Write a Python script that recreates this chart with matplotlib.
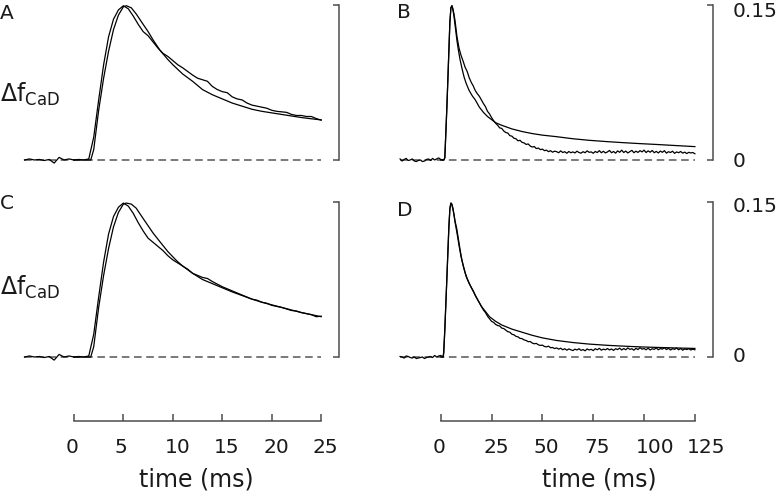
import numpy as np
import matplotlib
matplotlib.use('Agg')
import matplotlib.pyplot as plt
import matplotlib.transforms as mtransforms

plt.rcParams['font.family'] = ['DejaVu Sans']
plt.rcParams['mathtext.default'] = 'regular'

# ---- panel A (0-25 ms, first fit) ----
a_data_t = np.linspace(-5, 25, 61)
a_data_v = [0.000, 0.001, 0.000, 0.0005, -0.0005, 0.0005, -0.003, 0.0025, 0.000, 0.001,
            0.000, 0.0005, 0.000, 0.001, 0.022, 0.058, 0.092, 0.119, 0.136, 0.145,
            0.149, 0.146, 0.139, 0.131, 0.124, 0.120, 0.114, 0.108, 0.103, 0.100,
            0.096, 0.092, 0.089, 0.0855, 0.082, 0.079, 0.0775, 0.076, 0.071, 0.068,
            0.066, 0.065, 0.061, 0.059, 0.058, 0.055, 0.053, 0.052, 0.051, 0.050,
            0.048, 0.047, 0.0465, 0.046, 0.044, 0.043, 0.043, 0.042, 0.042, 0.040,
            0.0385]
a_fit_t = [0, 1.7, 2.0, 2.5, 3.0, 3.5, 4.0, 4.5, 5.0, 5.3,
           5.8, 6.3, 7.0, 7.5, 8.0, 8.7, 9.5, 10, 11, 12,
           13, 14, 15, 16, 17, 18, 19, 20, 21, 22, 23, 24, 25]
a_fit_v = [0, 0, 0.01, 0.048, 0.079, 0.105, 0.126, 0.140, 0.148, 0.149,
           0.147, 0.141, 0.131, 0.124, 0.116, 0.106, 0.097, 0.092, 0.083, 0.076,
           0.068, 0.063, 0.059, 0.055, 0.052, 0.049, 0.047, 0.0455, 0.044, 0.0425, 0.041, 0.0398, 0.0387]

# ---- panel C (0-25 ms, second fit) ----
c_data_t = np.linspace(-5, 25, 61)
c_data_v = [0.000, 0.001, 0.000, 0.0005, -0.0005, 0.0005, -0.003, 0.0025, 0.000, 0.001,
            0.000, 0.0005, 0.000, 0.001, 0.022, 0.058, 0.092, 0.119, 0.136, 0.145,
            0.149, 0.146, 0.139, 0.130, 0.122, 0.115, 0.111, 0.107, 0.103, 0.098,
            0.094, 0.091, 0.088, 0.085, 0.081, 0.079, 0.077, 0.076, 0.073, 0.0705,
            0.068, 0.066, 0.064, 0.062, 0.060, 0.058, 0.056, 0.055, 0.053, 0.052,
            0.050, 0.049, 0.048, 0.0465, 0.045, 0.0445, 0.043, 0.042, 0.041, 0.039,
            0.0395]
c_fit_t = [0, 1.7, 2.0, 2.5, 3.0, 3.5, 4.0, 4.5, 5.0, 5.3,
           5.8, 6.3, 7.0, 7.5, 8.0, 8.7, 9.5, 10.4, 11, 12,
           13, 14, 15, 16, 17, 18, 19, 20, 21, 22, 23, 24, 25]
c_fit_v = [0, 0, 0.01, 0.048, 0.079, 0.105, 0.126, 0.140, 0.148, 0.149,
           0.148, 0.144, 0.134, 0.127, 0.120, 0.1115, 0.102, 0.093, 0.088, 0.081,
           0.075, 0.071, 0.067, 0.063, 0.0595, 0.056, 0.053, 0.0505, 0.048, 0.0455, 0.043, 0.041, 0.039]

# ---- panel B (0-125 ms, first fit) ----
b_base_t = np.arange(-20, 2)
b_base_v = [0.001, -0.001, 0.0005, 0.0015, -0.0005, 0.000, 0.001, -0.001, -0.0015, -0.0005,
            0.000, -0.0015, -0.001, 0.0005, 0.001, -0.0005, 0.0015, 0.000, 0.001, 0.002,
            0.0005, 0.000]
b_peak_t = [1.5, 2, 2.5, 3, 3.5, 4, 4.5, 5, 5.5, 6, 6.5, 7, 7.5, 8,
            9, 10, 11, 12, 13, 14, 15, 16, 17, 18, 19, 20, 21, 22, 23, 24, 25, 26, 27]
b_peak_v = [0.000, 0.002, 0.025, 0.05, 0.077, 0.105, 0.133, 0.147, 0.149, 0.146, 0.141, 0.135, 0.127, 0.119,
            0.108, 0.101, 0.0955, 0.0895, 0.0855, 0.0795, 0.075, 0.0715, 0.067, 0.064, 0.0615,
            0.058, 0.0545, 0.0515, 0.047, 0.0445, 0.041, 0.038, 0.0355]
b_tail_t = np.arange(28, 126)
b_tail_v = [0.0335, 0.031, 0.0305, 0.028, 0.0265, 0.026, 0.0235, 0.023, 0.021, 0.0205,
            0.0185, 0.019, 0.017, 0.0165, 0.015, 0.0155, 0.0135, 0.0125, 0.013, 0.011,
            0.0115, 0.010, 0.0105, 0.009, 0.0095, 0.008, 0.009, 0.0075, 0.0085, 0.008,
            0.007, 0.0088, 0.0072, 0.008, 0.0065, 0.0082, 0.007, 0.0078, 0.0068, 0.0085,
            0.0072, 0.0066, 0.008, 0.007, 0.0088, 0.0074, 0.0078, 0.0065, 0.0082, 0.0072,
            0.009, 0.007, 0.0084, 0.0068, 0.0078, 0.0092, 0.007, 0.0082, 0.0066, 0.0088,
            0.0074, 0.0095, 0.0072, 0.0086, 0.0068, 0.008, 0.0093, 0.007, 0.0085, 0.0073,
            0.009, 0.0078, 0.0095, 0.0072, 0.0088, 0.0075, 0.0092, 0.007, 0.0083, 0.0068,
            0.0086, 0.0074, 0.009, 0.0066, 0.008, 0.0072, 0.0085, 0.0064, 0.0078, 0.007,
            0.0082, 0.0066, 0.0076, 0.0062, 0.0074, 0.0068, 0.0072, 0.006]
b_fit_t = [0, 1.5, 2, 2.5, 3, 3.5, 4, 4.5, 5, 5.5,
           6, 6.5, 7, 7.5, 8, 8.7, 9.5, 10.5, 11.5, 12.5,
           14, 15.5, 17, 19, 21, 23, 25, 27, 30, 35,
           40, 45, 50, 57, 65, 73, 82, 90, 98, 106, 115, 125]
b_fit_v = [0, 0, 0.002, 0.025, 0.05, 0.077, 0.105, 0.133, 0.147, 0.149,
           0.145, 0.139, 0.131, 0.123, 0.115, 0.106, 0.097, 0.088, 0.080, 0.074,
           0.067, 0.062, 0.058, 0.051, 0.046, 0.042, 0.039, 0.036, 0.0335, 0.030,
           0.0275, 0.0255, 0.024, 0.0225, 0.0205, 0.019, 0.0177, 0.0167, 0.0158, 0.015, 0.014, 0.0129]

# ---- panel D (0-125 ms, second fit) ----
d_base_t = np.arange(-20, 2)
d_base_v = [0.0005, 0.000, -0.001, 0.001, 0.0005, -0.0005, -0.001, 0.000, -0.0015, -0.001,
            -0.0005, 0.000, -0.0015, -0.0005, 0.000, 0.0005, -0.0005, 0.0015, 0.000, 0.001,
            0.0015, 0.000]
d_peak_t = [1.5, 2, 2.5, 3, 3.5, 4, 4.5, 5, 5.5, 6, 6.5, 7,
            8, 9, 10, 11, 12, 13, 14, 15, 16, 17, 18, 19, 20, 21, 22, 23, 24, 25, 26, 27]
d_peak_v = [0.004, 0.027, 0.051, 0.076, 0.101, 0.126, 0.144, 0.149, 0.147, 0.143, 0.138, 0.131,
            0.120, 0.108, 0.097, 0.089, 0.0815, 0.076, 0.0715, 0.0675, 0.064, 0.0595, 0.056, 0.0525,
            0.049, 0.0455, 0.043, 0.0395, 0.037, 0.0345, 0.0335, 0.0315]
d_tail_t = np.arange(28, 126)
d_tail_v = [0.0305, 0.030, 0.028, 0.0275, 0.026, 0.0245, 0.024, 0.022, 0.0215, 0.020,
            0.0195, 0.018, 0.0178, 0.0165, 0.016, 0.0148, 0.015, 0.0135, 0.0128, 0.0132,
            0.0118, 0.0112, 0.0115, 0.0102, 0.0098, 0.0105, 0.009, 0.0092, 0.0082, 0.0088,
            0.0076, 0.0085, 0.007, 0.008, 0.0066, 0.0078, 0.007, 0.0062, 0.0076, 0.0068,
            0.008, 0.0064, 0.0072, 0.006, 0.0078, 0.0068, 0.0074, 0.0062, 0.008, 0.007,
            0.0084, 0.0066, 0.0076, 0.007, 0.0082, 0.0068, 0.0078, 0.0064, 0.008, 0.0072,
            0.0086, 0.0068, 0.0082, 0.007, 0.0088, 0.0074, 0.008, 0.0066, 0.0084, 0.0072,
            0.009, 0.0076, 0.0082, 0.007, 0.0086, 0.0068, 0.008, 0.0074, 0.0088, 0.007,
            0.0082, 0.0076, 0.009, 0.0072, 0.0084, 0.0068, 0.008, 0.0074, 0.0086, 0.007,
            0.0082, 0.0066, 0.0078, 0.0072, 0.008, 0.0068, 0.0076, 0.007]
d_fit_t = [0, 1.3, 2, 2.5, 3, 3.5, 4, 4.5, 5, 5.5,
           6, 6.5, 7, 7.9, 8.7, 9.5, 10.3, 11.1, 12.5, 14,
           16, 18, 20, 22, 24, 27, 30, 35, 40, 45,
           50, 57, 65, 73, 82, 90, 98, 106, 115, 125]
d_fit_v = [0, 0, 0.025, 0.05, 0.075, 0.1, 0.125, 0.143, 0.149, 0.148,
           0.144, 0.138, 0.132, 0.124, 0.114, 0.104, 0.095, 0.088, 0.078, 0.071,
           0.0635, 0.056, 0.049, 0.044, 0.039, 0.0345, 0.031, 0.027, 0.024, 0.021,
           0.0185, 0.016, 0.014, 0.0125, 0.0113, 0.0105, 0.0098, 0.0093, 0.0088, 0.0083]

b_data_t = np.concatenate([b_base_t, b_peak_t, b_tail_t])
b_data_v = np.concatenate([b_base_v, b_peak_v, b_tail_v])
d_data_t = np.concatenate([d_base_t, d_peak_t, d_tail_t])
d_data_v = np.concatenate([d_base_v, d_peak_v, d_tail_v])

y_ticks = [0, 0.15]
y_tick_labels = ['0', '0.15']
short_ticks = [0, 5, 10, 15, 20, 25]
long_ticks = [0, 25, 50, 75, 100, 125]
time_label = 'time (ms)'
df_label = r'$\Delta f_{CaD}$'

W, H = 777, 495
fig = plt.figure(figsize=(W / 100, H / 100), dpi=100)


def px_axes(left, top, right, bottom):
    return fig.add_axes([left / W, 1 - bottom / H, (right - left) / W, (bottom - top) / H])


def px_shift(dx, dy):
    # offset in screen pixels (dy positive = down)
    return mtransforms.ScaledTranslation(dx / 100, -dy / 100, fig.dpi_scale_trans)


axis_color = '#4d4d4d'
text_color = '#1a1a1a'
fs = 14.5
short_lim = (-6, 26.8)
long_lim = (-22, 133.9)
ylim = (-0.012, 0.154)

# (letter, pixel box, xlim, data, fit, show tick labels, label shifts for 0 / 0.15)
panels = [
    ('A', (14.6, 0.56, 339, 172.4), short_lim, a_data_t, a_data_v, a_fit_t, a_fit_v, False, (0, 0)),
    ('B', (396, 0.56, 713, 172.4), long_lim, b_data_t, b_data_v, b_fit_t, b_fit_v, True, (0, 4.5)),
    ('C', (14.6, 197.9, 339, 369.4), short_lim, c_data_t, c_data_v, c_fit_t, c_fit_v, False, (0, 0)),
    ('D', (396, 197.9, 713, 369.4), long_lim, d_data_t, d_data_v, d_fit_t, d_fit_v, True, (-3, 2)),
]

for letter, box, xlim, dt, dv, ft, fv, show_labels, shifts in panels:
    ax = px_axes(*box)
    ax.patch.set_visible(False)
    ax.hlines(0, dt[0], dt[-1], colors='#555555', linestyles=(0, (5, 3)), lw=1.1)
    ax.plot(dt, dv, color='black', lw=0.9)
    ax.plot(ft, fv, color='black', lw=0.9)
    ax.set_xlim(*xlim)
    ax.set_ylim(*ylim)
    for s in ['top', 'left', 'bottom']:
        ax.spines[s].set_visible(False)
    ax.spines['right'].set_bounds(0, 0.15)
    ax.spines['right'].set_color(axis_color)
    ax.spines['right'].set_linewidth(1.1)
    ax.set_xticks([])
    ax.yaxis.tick_right()
    ax.set_yticks(y_ticks)
    ax.set_yticklabels(y_tick_labels)
    ax.tick_params(axis='y', direction='in', length=4.3, width=1.1, color=axis_color,
                   labelsize=fs, pad=14, labelright=show_labels, labelcolor=text_color)
    for lbl, dy in zip(ax.get_yticklabels(which='major'), shifts):
        lbl.set_transform(lbl.get_transform() + px_shift(0, dy))

# panel letters and y labels
fig.text(0 / W, 1 - 4 / H, 'A', fontsize=14.5, va='top', ha='left', color=text_color)
fig.text(397 / W, 1 - 3 / H, 'B', fontsize=14.5, va='top', ha='left', color=text_color)
fig.text(0 / W, 1 - 194 / H, 'C', fontsize=14.5, va='top', ha='left', color=text_color)
fig.text(397 / W, 1 - 201 / H, 'D', fontsize=14.5, va='top', ha='left', color=text_color)
fig.text(0, 1 - 94 / H, df_label, fontsize=17, va='center', ha='left', color=text_color)
fig.text(0, 1 - 287 / H, df_label, fontsize=17, va='center', ha='left', color=text_color)

# separate time axes below the panels
for box, xlim, ticks, label_x in [((14.6, 410, 339, 420.7), short_lim, short_ticks, 196),
                                  ((396, 410, 713, 420.7), long_lim, long_ticks, 599)]:
    axb = px_axes(*box)
    axb.patch.set_visible(False)
    axb.set_xlim(*xlim)
    for s in ['top', 'left', 'right']:
        axb.spines[s].set_visible(False)
    axb.spines['bottom'].set_bounds(ticks[0], ticks[-1])
    axb.spines['bottom'].set_color(axis_color)
    axb.spines['bottom'].set_linewidth(1.1)
    axb.set_yticks([])
    axb.set_xticks(ticks)
    axb.set_xticklabels([str(t) for t in ticks])
    axb.tick_params(axis='x', direction='in', length=5, width=1.1, color=axis_color,
                    labelsize=fs, pad=12.5, labelcolor=text_color)
    # labels sit left-aligned just before each tick, as in the original
    for lbl in axb.get_xticklabels():
        lbl.set_ha('left')
        lbl.set_transform(lbl.get_transform() + px_shift(-8.5, 0))
    fig.text(label_x / W, 1 - 480 / H, time_label, fontsize=17, ha='center', va='center',
             color=text_color)

fig.savefig('out.png', dpi=100)
